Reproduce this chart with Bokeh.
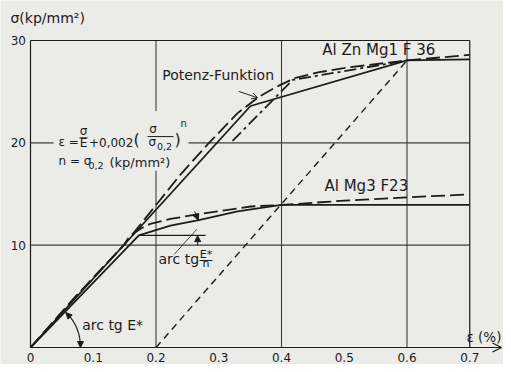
from bokeh.plotting import figure
from bokeh.models import Range1d, Arrow, OpenHead, NormalHead
from bokeh.core.properties import value
from bokeh.embed import file_html
from bokeh.resources import INLINE

# ---------------- data (strain eps in %, stress sigma in kp/mm^2) ----------------
# Al Zn Mg1 F36
zn_meas_eps = [0.0, 0.3506, 0.6, 0.7]
zn_meas_sig = [0.0, 23.6, 28.05, 28.15]
zn_pot_eps = [0.0, 0.0664, 0.1487, 0.239, 0.283, 0.33, 0.364, 0.393, 0.42, 0.46, 0.51, 0.6, 0.7]
zn_pot_sig = [0.0, 4.6, 10.0, 16.9, 19.9, 22.9, 24.5, 25.5, 26.3, 26.9, 27.4, 28.05, 28.6]
zn_alt_eps = [0.322, 0.418, 0.6]
zn_alt_sig = [20.2, 26.15, 28.05]
# Al Mg3 F23
mg_meas_eps = [0.0, 0.1727, 0.223, 0.268, 0.33, 0.4, 0.5, 0.7]
mg_meas_sig = [0.0, 10.96, 11.9, 12.45, 13.3, 13.93, 13.93, 13.93]
mg_pot_eps = [0.0, 0.0664, 0.1487, 0.158, 0.178, 0.191, 0.223, 0.268, 0.351, 0.4, 0.5, 0.6, 0.7]
mg_pot_sig = [0.0, 4.6, 10.0, 10.9, 11.7, 12.08, 12.56, 13.04, 13.78, 13.93, 14.35, 14.68, 14.96]
# 0.2 % offset line
offset_eps = [0.2, 0.6]
offset_sig = [0.0, 28.05]
# kink reference (tangent) line of Al Mg3
ref_eps = [0.1727, 0.279]
ref_sig = [10.96, 10.96]

# axes / grid
x_ticks = [0.0, 0.1, 0.2, 0.3, 0.4, 0.5, 0.6, 0.7]
x_tick_labels = ["0", "0.1", "0.2", "0.3", "0.4", "0.5", "0.6", "0.7"]
y_ticks = [10, 20, 30]
y_tick_labels = ["10", "20", "30"]
grid_eps = [0.2, 0.4, 0.6]
grid_sig = [10, 20]
eps_max = 0.7
sig_max = 30
eps_arrow = 0.7506

# ---------------- styling ----------------
BG = "#ebebe8"
INK = "#1c1c1c"
GRID = "#3c3c3c"
FONT = value("DejaVu Sans")

p = figure(width=503, height=364, output_backend="svg", toolbar_location=None,
           x_range=Range1d(-0.04781, 0.75378), y_range=Range1d(-1.661, 33.909),
           x_axis_type=None, y_axis_type=None,
           min_border=0, min_border_left=0, min_border_right=0,
           min_border_top=0, min_border_bottom=0)
p.background_fill_color = BG
p.border_fill_color = BG
p.outline_line_color = None


def txt(x, y, s, size, align="left"):
    p.text(x=[x], y=[y], text=[s], text_font=FONT, text_font_size=size,
           text_color=INK, text_align=align, text_baseline="middle")


# grid and frame
p.segment(x0=grid_eps, y0=[0] * len(grid_eps), x1=grid_eps, y1=[sig_max] * len(grid_eps),
          line_color=GRID, line_width=1.1)
p.segment(x0=[0] * len(grid_sig), y0=grid_sig, x1=[eps_max] * len(grid_sig), y1=grid_sig,
          line_color=GRID, line_width=1.1)
p.segment(x0=[0, 0, eps_max], y0=[0, sig_max, 0], x1=[0, eps_max, eps_max], y1=[sig_max, sig_max, sig_max],
          line_color=INK, line_width=1.2)
p.add_layout(Arrow(x_start=0, y_start=0, x_end=eps_arrow, y_end=0, line_color=INK, line_width=1.2,
                   end=OpenHead(size=9, line_color=INK, line_width=1.2)))

# box that masks the grid behind the formula
p.quad(left=[0.0367], right=[0.2518], bottom=[17.26], top=[23.11], fill_color=BG, line_color=None)

# curves
LW = 1.8
p.line(offset_eps, offset_sig, line_color=INK, line_width=1.4, line_dash="7 5")
p.line(zn_meas_eps, zn_meas_sig, line_color=INK, line_width=LW)
p.line(zn_pot_eps, zn_pot_sig, line_color=INK, line_width=LW, line_dash="14 5")
p.line(zn_alt_eps, zn_alt_sig, line_color=INK, line_width=LW, line_dash="12 4 3 4")
p.line(mg_meas_eps, mg_meas_sig, line_color=INK, line_width=LW)
p.line(mg_pot_eps, mg_pot_sig, line_color=INK, line_width=LW, line_dash="14 5")
p.line(ref_eps, ref_sig, line_color=INK, line_width=1.2)

# tick labels
p.text(x=x_ticks, y=[-0.977] * len(x_ticks), text=x_tick_labels, text_font=FONT, text_font_size="12px",
       text_color=INK, text_align="center", text_baseline="middle")
p.text(x=[-0.0072] * len(y_ticks), y=y_ticks, text=y_tick_labels, text_font=FONT, text_font_size="12px",
       text_color=INK, text_align="right", text_baseline="middle")

# axis titles
txt(-0.0319, 32.17, "σ(kp/mm²)", "14px")
txt(0.6948, 1.007, "ε (%)", "13.5px")

# curve labels
txt(0.4649, 29.10, "Al Zn Mg1 F 36", "15px")
txt(0.4685, 15.75, "Al Mg3 F23", "15px")
txt(0.2099, 26.65, "Potenz-Funktion", "14px")
p.add_layout(Arrow(x_start=0.332, y_start=25.02, x_end=0.362, y_end=24.4, line_color=INK, line_width=1,
                   end=OpenHead(size=6, line_color=INK, line_width=1)))

# angle E*
p.arc(x=[0], y=[0], radius=50, radius_units="screen", start_angle=0, end_angle=45,
      start_angle_units="deg", end_angle_units="deg", line_color=INK, line_width=1.2)
p.add_layout(Arrow(x_start=0.0797, y_start=0.6, x_end=0.0797, y_end=0.0, line_color=INK, line_width=1,
                   end=NormalHead(size=6, fill_color=INK, line_color=INK)))
p.add_layout(Arrow(x_start=0.0631, y_start=2.98, x_end=0.05635, y_end=3.39, line_color=INK, line_width=1,
                   end=NormalHead(size=6, fill_color=INK, line_color=INK)))
txt(0.0824, 2.157, "arc tg E*", "14px")

# angle E*/n
p.add_layout(Arrow(x_start=0.2664, y_start=9.97, x_end=0.2664, y_end=10.93, line_color=INK, line_width=1,
                   end=NormalHead(size=6, fill_color=INK, line_color=INK)))
p.add_layout(Arrow(x_start=0.2615, y_start=13.3, x_end=0.2675, y_end=12.45, line_color=INK, line_width=1,
                   end=NormalHead(size=6, fill_color=INK, line_color=INK)))
p.segment(x0=[0.229], y0=[9.1], x1=[0.265], y1=[11.55], line_color=INK, line_width=0.8)
txt(0.204, 8.677, "arc tg", "14px")
txt(0.2797, 9.108, "E*", "11px", align="center")
p.segment(x0=[0.2693], y0=[8.5], x1=[0.29], y1=[8.5], line_color=INK, line_width=1)
txt(0.2797, 8.178, "n", "11px", align="center")

# formula
txt(0.0446, 20.09, "ε =", "12px")
txt(0.0845, 21.19, "σ", "12px", align="center")
p.segment(x0=[0.0781], y0=[20.49], x1=[0.0908], y1=[20.49], line_color=INK, line_width=1)
txt(0.0845, 19.94, "E", "12px", align="center")
txt(0.0932, 19.99, "+0,002", "12px")
txt(0.1641, 20.33, "(", "16px")
txt(0.1952, 21.38, "σ", "12px", align="center")
p.segment(x0=[0.1865], y0=[20.61], x1=[0.2279], y1=[20.61], line_color=INK, line_width=1)
txt(0.1881, 20.09, "σ", "12px")
txt(0.2016, 19.65, "0,2", "9.5px")
txt(0.2295, 20.33, ")", "16px")
txt(0.239, 21.91, "n", "10px")
txt(0.0446, 18.26, "n = σ", "12px")
txt(0.0924, 17.79, "0,2", "9.5px")
txt(0.1259, 18.07, "(kp/mm²)", "13px")

open("out.html", "w").write(file_html(p, INLINE))
